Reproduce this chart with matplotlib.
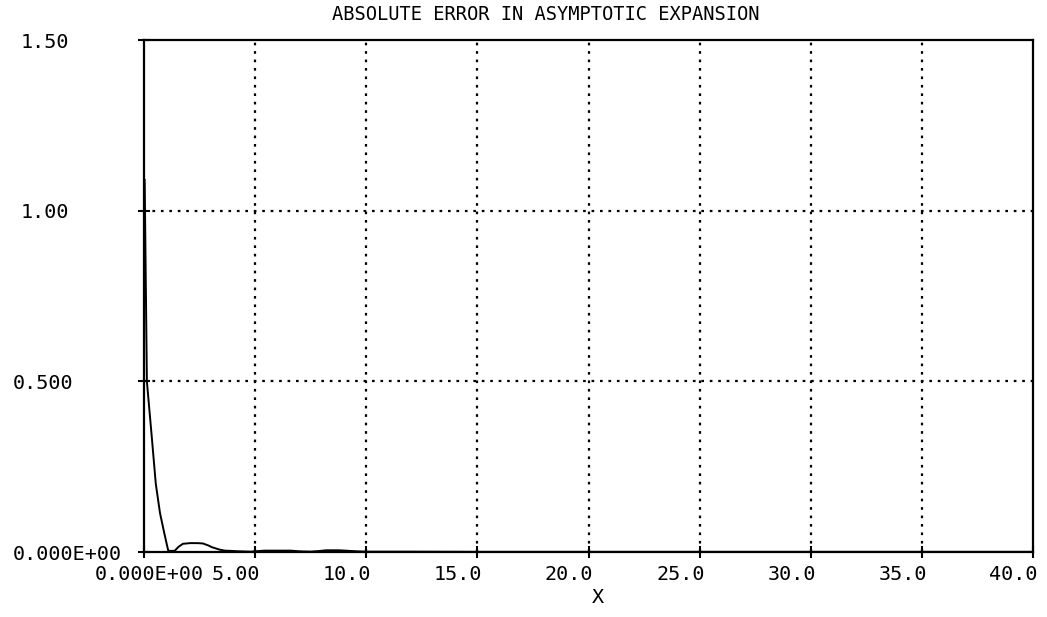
import numpy as np
import matplotlib
matplotlib.use("Agg")
import matplotlib.pyplot as plt
from matplotlib.transforms import ScaledTranslation

# absolute error of the asymptotic expansion, sampled along x
x_vals = [0.03, 0.13, 0.19, 0.35, 0.53, 0.72, 0.91, 1.09, 1.25, 1.39, 1.55,
          1.75, 2.07, 2.40, 2.65, 2.90, 3.06, 3.40, 3.64, 4.00, 4.30, 4.80,
          5.20, 5.40, 6.00, 6.60, 7.00, 7.50, 7.90, 8.20, 8.80, 9.30, 9.60,
          10.0, 12.0, 15.0, 20.0, 25.0, 30.0, 35.0, 40.0]
abs_err = [1.09, 0.50, 0.455, 0.337, 0.200, 0.114, 0.056, 0.004, 0.003, 0.004,
           0.015, 0.024, 0.026, 0.026, 0.025, 0.019, 0.014, 0.007, 0.004, 0.003,
           0.002, 0.001, 0.003, 0.004, 0.004, 0.004, 0.002, 0.001, 0.003, 0.005,
           0.005, 0.003, 0.002, 0.001, 0.001, 0.0005, 0.0005, 0.0005, 0.0005,
           0.0005, 0.0005]

xticks = [0, 5, 10, 15, 20, 25, 30, 35, 40]
xtick_labels = ["0.000E+00", "5.00", "10.0", "15.0", "20.0", "25.0", "30.0", "35.0", "40.0"]
yticks = [0, 0.5, 1.0, 1.5]
ytick_labels = ["0.000E+00", "0.500", "1.00", "1.50"]

mono = "DejaVu Sans Mono"
tick_fs = 14.5

fig = plt.figure(figsize=(10.47, 6.17), dpi=100)
ax = fig.add_axes([144/1047, 1 - 552/617, 889/1047, 512/617])

ax.plot(x_vals, abs_err, color="black", lw=1.4)

ax.set_xlim(0, 40)
ax.set_ylim(0, 1.5)

ax.set_xticks(xticks)
ax.set_xticklabels(xtick_labels, family=mono, fontsize=tick_fs, ha="right")
ax.set_yticks(yticks)
ax.set_yticklabels(ytick_labels, family=mono, fontsize=tick_fs, ha="left")

ax.tick_params(axis="both", direction="inout", length=9, width=1.5, colors="black")
ax.tick_params(axis="x", pad=5)
ax.tick_params(axis="y", pad=90)

# plotter-style label placement: right edge just past the tick
nudge = ScaledTranslation(5/100, 0, fig.dpi_scale_trans)
for i, lab in enumerate(ax.get_xticklabels()):
    if i == 0:
        lab.set_ha("center")
    lab.set_transform(lab.get_transform() + nudge)

# short y labels sit a little further right
for lab in ax.get_yticklabels():
    if len(lab.get_text()) == 4:
        lab.set_transform(lab.get_transform() + ScaledTranslation(8/100, 0, fig.dpi_scale_trans))

for s in ax.spines.values():
    s.set_linewidth(1.6)
    s.set_color("black")

# dotted grid at interior ticks only
for xv in xticks[1:-1]:
    ax.axvline(xv, color="black", lw=1.6, linestyle=(0, (1.2, 2.6)))
for yv in yticks[1:-1]:
    ax.axhline(yv, color="black", lw=1.6, linestyle=(0, (1.2, 2.6)))

ax.set_xlabel("X", family=mono, fontsize=tick_fs)
ax.xaxis.set_label_coords((598 - 144) / 889, -0.070)

fig.text(332/1047, 1 - 14/617, "ABSOLUTE ERROR IN ASYMPTOTIC EXPANSION",
         family=mono, fontsize=13.5, ha="left", va="center")

fig.savefig("out.png", dpi=100)
